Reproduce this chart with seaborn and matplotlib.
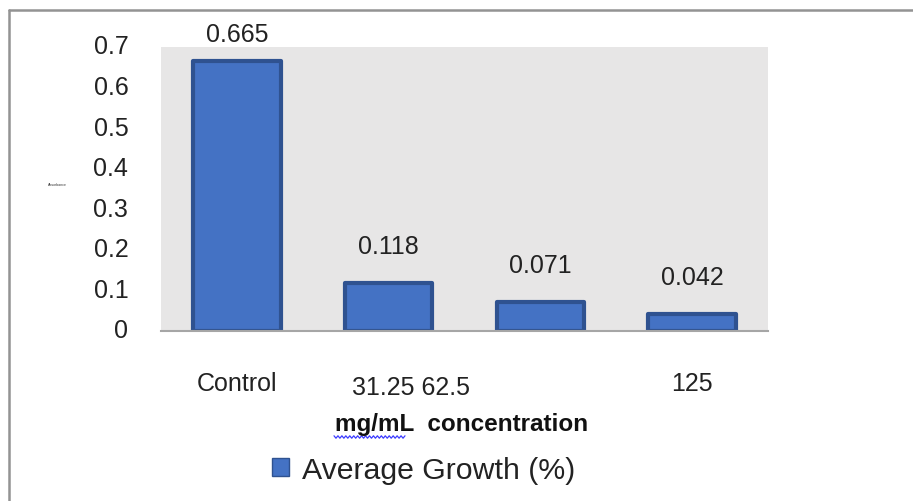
import numpy as np
import pandas as pd
import matplotlib
matplotlib.use("Agg")
import matplotlib.pyplot as plt
import matplotlib.transforms as mtransforms
from matplotlib.lines import Line2D
from matplotlib.patches import Patch
import seaborn as sns

# Data
categories = ["Control", "31.25", "62.5", "125"]
growth = [0.665, 0.118, 0.071, 0.042]
value_labels = ["0.665", "0.118", "0.071", "0.042"]
tick_labels = ["Control", "31.25 62.5", "", "125"]
y_ticks = [0, 0.1, 0.2, 0.3, 0.4, 0.5, 0.6, 0.7]
y_tick_labels = ["0", "0.1", "0.2", "0.3", "0.4", "0.5", "0.6", "0.7"]

sns.set_theme(style="white")
plt.rcParams["font.family"] = ["Liberation Sans", "DejaVu Sans"]

W, H = 913, 502
fig = plt.figure(figsize=(W / 100, H / 100), dpi=100)
fig.patch.set_facecolor("white")

# plot area in pixel terms
left, right, top, bottom = 161, 768, 48, 332
ax = fig.add_axes([left / W, 1 - bottom / H, (right - left) / W, (bottom - top) / H])
ax.set_facecolor("#e7e6e6")

df = pd.DataFrame({"category": categories, "growth": growth})
sns.barplot(data=df, x="category", y="growth", ax=ax, color="#4472c4",
            width=0.575, saturation=1, edgecolor="#2f5290", linewidth=3.0)
for p in ax.patches:
    p.set_joinstyle("round")

ax.set_ylim(0, 0.7)
ax.set_xlim(-0.5, len(categories) - 0.5)
ax.set_yticks(y_ticks)
ax.set_yticklabels(y_tick_labels, fontsize=18, color="#222222")
ax.tick_params(axis="y", length=0, pad=23.5)
ax.tick_params(axis="x", length=0, pad=28.5)
ax.set_xticks(range(len(categories)))
ax.set_xticklabels(tick_labels, fontsize=18, color="#222222")
ax.set_xlabel("")
ax.set_ylabel("")

# nudge tick labels
for lbl in ax.get_yticklabels():
    lbl.set_transform(lbl.get_transform() + mtransforms.ScaledTranslation(0, 3 / 100, fig.dpi_scale_trans))
xl = ax.get_xticklabels()
xl[1].set_transform(xl[1].get_transform() + mtransforms.ScaledTranslation(22 / 100, -4 / 100, fig.dpi_scale_trans))

for s in ["top", "right", "left"]:
    ax.spines[s].set_visible(False)
ax.spines["bottom"].set_color("#a6a6a6")
ax.spines["bottom"].set_linewidth(1.5)

# value labels above bars
for i, (v, t) in enumerate(zip(growth, value_labels)):
    bar_top_px = v * (bottom - top) / 0.7
    off = min(37, (bottom - top) - bar_top_px + 13)
    ax.annotate(t, xy=(i, v), xytext=(0, off * 0.72), textcoords="offset points",
                ha="center", va="center", fontsize=18, color="#222222",
                annotation_clip=False)

# axis title
fig.text(462 / W, 1 - 424 / H, "mg/mL  concentration", ha="center", va="center",
         fontsize=17.5, fontweight="bold", color="#111111")
# spelling underline under the unit
xs = np.linspace(334, 405, 37)
ys = 438 + np.where(np.arange(len(xs)) % 2 == 0, -1.2, 1.2)
fig.add_artist(Line2D(xs / W, 1 - ys / H, color="#3b3bff", lw=0.9))

# tiny axis title
fig.text(57 / W, 1 - 185 / H, "Absorbance", ha="center", va="center", fontsize=2.5, color="#333333")

# legend
fig.legend(handles=[Patch(facecolor="#4472c4", edgecolor="#2f5290", linewidth=1)],
           labels=["Average Growth (%)"], loc="center left",
           bbox_to_anchor=(257 / W, 1 - 471 / H), frameon=False, fontsize=21.8,
           handlelength=0.55, handleheight=0.55, handletextpad=0.42, borderpad=0,
           labelcolor="#222222")

# outer frame
fig.add_artist(Line2D([8.5 / W, 1], [1 - 11 / H, 1 - 11 / H], color="#939393", lw=1.8))
fig.add_artist(Line2D([8.5 / W, 8.5 / W], [1 - 11 / H, 0], color="#939393", lw=1.8))

fig.savefig("out.png", dpi=100, facecolor="white")
